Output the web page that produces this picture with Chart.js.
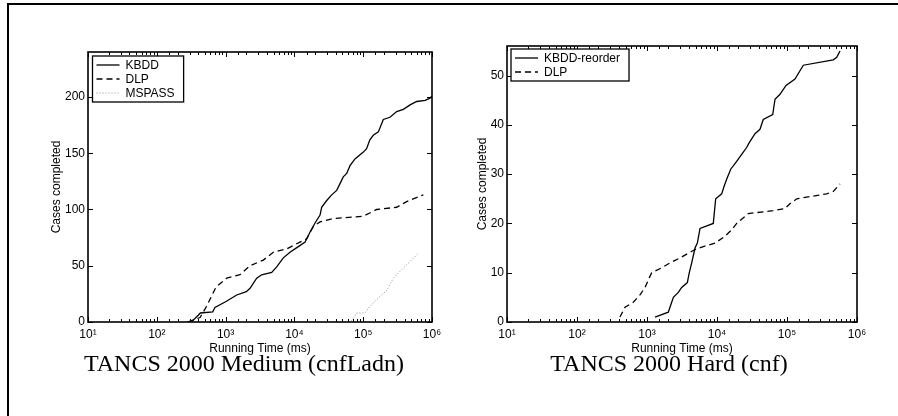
<!DOCTYPE html>
<html lang="en">
<head>
    <meta charset="UTF-8">
    <title>TANCS 2000 running time</title>
    <style>
        body { margin: 0; background: #fff; width: 898px; height: 416px; overflow: hidden; position: relative; }
        #frame { position: absolute; left: 7px; top: 3px; width: 900px; height: 420px; border-top: 2px solid #000; border-left: 2px solid #000; }
        .panel { position: absolute; top: 0; width: 449px; height: 416px; }
        .caption { position: absolute; top: 349px; width: 400px; text-align: center;
                   font-family: "Liberation Serif", "DejaVu Serif", serif; font-size: 24px; line-height: 28px; color: #000; }
    </style>
</head>
<body>
    <div id="frame"></div>
    <div class="panel" style="left:0"><canvas id="mediumChart" width="449" height="416"></canvas></div>
    <div class="panel" style="left:449px"><canvas id="hardChart" width="449" height="416"></canvas></div>
    <div class="caption" style="left:44px">TANCS 2000 Medium (cnfLadn)</div>
    <div class="caption" style="left:469px">TANCS 2000 Hard (cnf)</div>

    <script src="https://cdn.jsdelivr.net/npm/chart.js"></script>
    <script>
        // TANCS 2000 Medium (cnfLadn)
        const mediumKbddTime  = [280, 330, 400, 430, 650, 700, 1000, 1450, 2000, 2265, 2830, 3350, 4680, 5530, 6900, 8630, 11400, 14300, 16900, 19950, 23600, 24900, 29500, 34800, 41200, 46000, 51300, 57500, 64300, 76000, 100500, 112000, 125000, 140000, 166000, 196000, 245000, 307000, 383000, 480000, 600000, 795000, 935000, 1000000];
        const mediumKbddCases = [0, 1, 6, 8, 9, 13, 18, 24, 27, 30, 39, 42, 44, 49, 57, 62, 67, 71, 80, 88, 95, 102, 108, 113, 117, 123, 129, 132, 139, 145, 151, 154, 162, 166, 169, 180, 182, 187, 189, 193, 196, 197, 199, 201];
        const mediumDlpTime   = [284, 425, 530, 725, 1040, 1620, 2265, 3530, 4930, 7730, 12050, 15100, 18840, 23600, 36700, 100000, 157000, 307000, 428000, 748000];
        const mediumDlpCases  = [0, 4, 14, 31, 39, 42, 50, 55, 62, 65, 71, 74, 85, 89, 92, 94, 100, 102, 107, 113];
        const mediumMspassTime  = [62000, 70000, 80300, 106000, 125600, 157000, 220000, 274000, 383000, 630000];
        const mediumMspassCases = [0, 2, 8, 8, 14, 20, 28, 39, 48, 61];

        // TANCS 2000 Hard (cnf)
        const hardKbddTime  = [1300, 2015, 2130, 2380, 2800, 3130, 3770, 4020, 4350, 4850, 5240, 5720, 8850, 9580, 11670, 12600, 13780, 15700, 19100, 22500, 26500, 28900, 34900, 41100, 45800, 62500, 67400, 79400, 96800, 130000, 171000, 458000, 513000, 572000];
        const hardKbddCases = [1, 2, 3, 5, 6, 7, 8, 10, 12, 15, 16, 19, 20, 25, 26, 27.5, 29, 31, 32.6, 34, 35.4, 36.4, 38.2, 39.1, 41.1, 42.1, 45.2, 46.2, 48, 49.3, 52.1, 53.2, 53.7, 55];
        const hardDlpTime   = [411, 485, 637, 794, 936, 1080, 1167, 1620, 2130, 2960, 4850, 6370, 9370, 13000, 16200, 19100, 28000, 63700, 93600, 110000, 138000, 369000, 458000, 572000];
        const hardDlpCases  = [1, 3, 4, 5.5, 7, 9, 10, 11, 12, 13, 14.7, 15.3, 16, 17.4, 18.7, 20, 22, 22.6, 23, 24, 25, 26, 26.5, 28];

        const timeTicks = [10, 100, 1000, 10000, 100000, 1000000];
        const superDigits = ['\u2070', '\u00b9', '\u00b2', '\u00b3', '\u2074', '\u2075', '\u2076'];

        const FONT = '"Liberation Sans", Arial, sans-serif';

        function points(xs, ys) {
            return xs.map((x, i) => ({ x: x, y: ys[i] }));
        }

        function isDecade(v) {
            const l = Math.log10(v);
            return Math.abs(l - Math.round(l)) < 1e-9;
        }

        // matlab style box: frame, inward ticks and a boxed legend
        const matlabBox = {
            id: 'matlabBox',
            afterDraw(chart) {
                const ctx = chart.ctx;
                const a = chart.chartArea;
                const xs = chart.scales.x, ys = chart.scales.y;
                ctx.save();
                ctx.strokeStyle = '#000';
                ctx.lineWidth = 1;
                ctx.beginPath();
                xs.ticks.forEach(t => {
                    const px = Math.round(xs.getPixelForValue(t.value)) + 0.5;
                    const len = isDecade(t.value) ? 5 : 3;
                    ctx.moveTo(px, a.bottom); ctx.lineTo(px, a.bottom - len);
                    ctx.moveTo(px, a.top); ctx.lineTo(px, a.top + len);
                });
                ys.ticks.forEach(t => {
                    const py = Math.round(ys.getPixelForValue(t.value)) + 0.5;
                    ctx.moveTo(a.left, py); ctx.lineTo(a.left + 5, py);
                    ctx.moveTo(a.right, py); ctx.lineTo(a.right - 5, py);
                });
                ctx.stroke();
                ctx.lineWidth = 1.6;
                ctx.strokeRect(a.left, a.top, a.right - a.left, a.bottom - a.top);

                // legend
                const opts = chart.options.plugins.matlabBox;
                const sets = chart.data.datasets;
                ctx.font = '12px ' + FONT;
                let tw = 0;
                sets.forEach(d => { tw = Math.max(tw, ctx.measureText(d.label).width); });
                const bx = a.left + opts.dx, by = a.top + opts.dy;
                const bw = 34 + tw + 8, bh = sets.length * 14 + 4;
                ctx.fillStyle = '#fff';
                ctx.fillRect(bx, by, bw, bh);
                ctx.lineWidth = 1.3;
                ctx.strokeRect(bx, by, bw, bh);
                sets.forEach((d, i) => {
                    const cy = by + 9 + i * 14;
                    ctx.strokeStyle = d.borderColor;
                    ctx.lineWidth = d.borderWidth;
                    ctx.setLineDash(d.borderDash || []);
                    ctx.beginPath();
                    ctx.moveTo(bx + 4, cy); ctx.lineTo(bx + 27, cy);
                    ctx.stroke();
                    ctx.setLineDash([]);
                    ctx.fillStyle = '#000';
                    ctx.textBaseline = 'middle';
                    ctx.fillText(d.label, bx + 33, cy + 0.5);
                });
                ctx.restore();
            }
        };

        function makeChart(id, datasets, yMax, yStep, pad, yWidth, legendPos) {
            const ctx = document.getElementById(id).getContext('2d');
            return new Chart(ctx, {
                type: 'line',
                data: { datasets: datasets },
                options: {
                    responsive: false,
                    animation: false,
                    layout: { padding: pad },
                    elements: { point: { radius: 0 }, line: { tension: 0 } },
                    plugins: {
                        legend: { display: false },
                        tooltip: { enabled: false },
                        matlabBox: legendPos
                    },
                    scales: {
                        x: {
                            type: 'logarithmic',
                            min: 10,
                            max: 1000000,
                            grid: { display: false, drawTicks: false },
                            border: { display: false },
                            ticks: {
                                autoSkip: false,
                                maxRotation: 0,
                                padding: 5,
                                color: '#000',
                                font: { family: FONT, size: 12 },
                                callback: v => timeTicks.includes(v) ? '10' + superDigits[Math.round(Math.log10(v))] : ''
                            },
                            title: { display: true, text: 'Running Time (ms)', color: '#000', padding: 0, font: { family: FONT, size: 12 } },
                            afterFit: s => { s.height = 34; }
                        },
                        y: {
                            min: 0,
                            max: yMax,
                            grid: { display: false, drawTicks: false },
                            border: { display: false },
                            ticks: {
                                stepSize: yStep,
                                includeBounds: false,
                                padding: 3,
                                color: '#000',
                                font: { family: FONT, size: 12 }
                            },
                            title: { display: true, text: 'Cases completed', color: '#000', padding: 0, font: { family: FONT, size: 12 } },
                            afterFit: s => { s.width = yWidth; }
                        }
                    }
                },
                plugins: [matlabBox]
            });
        }

        makeChart('mediumChart', [
            { label: 'KBDD', data: points(mediumKbddTime, mediumKbddCases), borderColor: '#000', borderWidth: 1.3 },
            { label: 'DLP', data: points(mediumDlpTime, mediumDlpCases), borderColor: '#000', borderWidth: 1.3, borderDash: [6, 4] },
            { label: 'MSPASS', data: points(mediumMspassTime, mediumMspassCases), borderColor: '#8c8c8c', borderWidth: 1, borderDash: [1, 2] }
        ], 240, 50, { left: 49, top: 52, right: 17, bottom: 60 }, 39, { dx: 4.5, dy: 4 });

        makeChart('hardChart', [
            { label: 'KBDD-reorder', data: points(hardKbddTime, hardKbddCases), borderColor: '#000', borderWidth: 1.3 },
            { label: 'DLP', data: points(hardDlpTime, hardDlpCases), borderColor: '#000', borderWidth: 1.3, borderDash: [6, 4] }
        ], 56, 10, { left: 26, top: 46, right: 41, bottom: 60 }, 32, { dx: 4, dy: 3 });
    </script>
</body>
</html>
